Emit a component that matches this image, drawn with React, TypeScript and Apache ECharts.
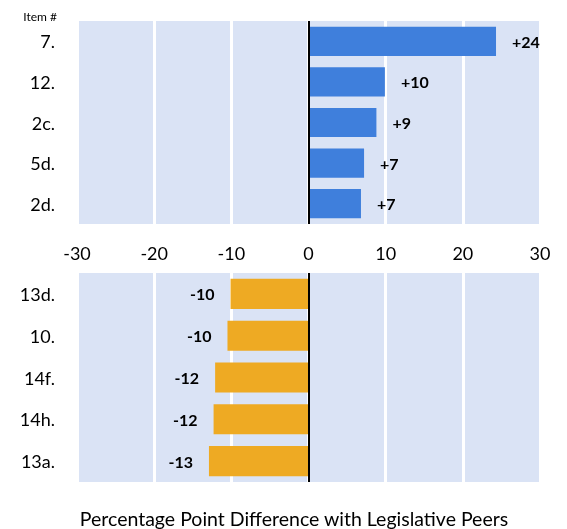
import React, { useEffect, useRef } from "react";
import * as echarts from "echarts";

const topCategories = ["7.", "12.", "2c.", "5d.", "2d."];
const topValues = [24.3, 9.9, 8.8, 7.2, 6.8];
const bottomCategories = ["13d.", "10.", "14f.", "14h.", "13a."];
const bottomValues = [-10.1, -10.5, -12.1, -12.3, -12.9];
const xMin = -30;
const xMax = 30;
const xInterval = 10;
const axisTitle = "Percentage Point Difference with Legislative Peers";
const itemHeader = "Item #";

const FONT = "Lato, 'Open Sans', sans-serif";
const BG = "#dae3f5";
const BLUE = "#3f7fdc";
const ORANGE = "#eeaa23";

const fmt = (p: any) => {
  const v = Math.round(p.value);
  return (v > 0 ? "+" : "") + v;
};

export default function App() {
  const ref = useRef<HTMLDivElement>(null);
  useEffect(() => {
    if (!ref.current) return;
    const chart = echarts.init(ref.current, undefined, { renderer: "svg" });
    const xAxisBase = (gridIndex: number, showLabels: boolean) => ({
      type: "value",
      gridIndex,
      min: xMin,
      max: xMax,
      interval: xInterval,
      position: "bottom",
      axisLine: { show: false },
      axisTick: { show: false },
      axisLabel: {
        show: showLabels,
        color: "#000",
        fontSize: 18,
        fontFamily: FONT,
        margin: 20,
      },
      splitLine: { show: true, lineStyle: { color: "#ffffff", width: 3 } },
    });
    const yAxisBase = (gridIndex: number, data: string[]) => ({
      type: "category",
      gridIndex,
      data,
      inverse: true,
      axisLine: { show: false },
      axisTick: { show: false },
      axisLabel: {
        color: "#000",
        fontSize: 18,
        fontFamily: FONT,
        margin: 22,
      },
    });
    const zeroLine = {
      silent: true,
      symbol: "none",
      label: { show: false },
      lineStyle: { color: "#000", width: 2, type: "solid" },
      data: [{ xAxis: 0 }],
    };
    const labelStyle = {
      show: true,
      distance: 16,
      formatter: fmt,
      color: "#000",
      fontWeight: "bold",
      fontSize: 16,
      fontFamily: FONT,
    };
    chart.setOption({
      animation: false,
      grid: [
        { left: 77, right: 27, top: 21, height: 203, show: true, backgroundColor: BG, borderWidth: 0 },
        { left: 77, right: 27, top: 273, height: 209, show: true, backgroundColor: BG, borderWidth: 0 },
      ],
      xAxis: [xAxisBase(0, true), xAxisBase(1, false)],
      yAxis: [yAxisBase(0, topCategories), yAxisBase(1, bottomCategories)],
      series: [
        {
          type: "bar",
          xAxisIndex: 0,
          yAxisIndex: 0,
          data: topValues,
          barCategoryGap: "28%",
          itemStyle: { color: BLUE },
          label: { ...labelStyle, position: "right" },
          markLine: zeroLine,
        },
        {
          type: "bar",
          xAxisIndex: 1,
          yAxisIndex: 1,
          data: bottomValues,
          barCategoryGap: "28%",
          itemStyle: { color: ORANGE },
          label: { ...labelStyle, position: "left" },
          markLine: zeroLine,
        },
      ],
      graphic: [
        {
          type: "text",
          x: 57,
          y: 16,
          style: {
            text: itemHeader,
            fill: "#000",
            fontSize: 12,
            fontFamily: FONT,
            textAlign: "right",
            textVerticalAlign: "middle",
          },
        },
        {
          type: "text",
          x: 294,
          y: 518,
          style: {
            text: axisTitle,
            fill: "#000",
            fontSize: 19.5,
            fontFamily: FONT,
            textAlign: "center",
            textVerticalAlign: "middle",
          },
        },
      ],
    });
    return () => chart.dispose();
  }, []);
  return (
    <div
      ref={ref}
      style={{ position: "fixed", left: 0, top: 0, width: 567, height: 529 }}
    />
  );
}
